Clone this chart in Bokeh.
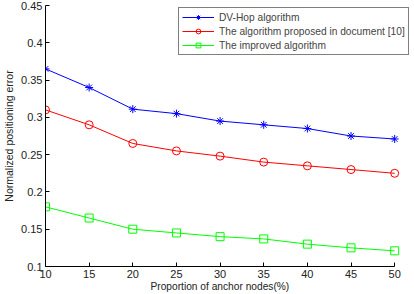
from bokeh.plotting import figure
from bokeh.models import Legend, LegendItem, FixedTicker, Title
from bokeh.embed import file_html
from bokeh.resources import INLINE

x = [10, 15, 20, 25, 30, 35, 40, 45, 50]
dvhop = [0.365, 0.34, 0.311, 0.305, 0.295, 0.29, 0.285, 0.275, 0.271]
doc10 = [0.31, 0.29, 0.265, 0.255, 0.248, 0.24, 0.235, 0.23, 0.225]
improved = [0.18, 0.165, 0.15, 0.145, 0.14, 0.137, 0.13, 0.125, 0.121]
names = ["DV-Hop algorithm", "The algorithm proposed in document [10]", "The improved algorithm"]
yticks = [0.1, 0.15, 0.2, 0.25, 0.3, 0.35, 0.4, 0.45]
xlabel = "Proportion of anchor nodes(%)"
ylabel = "Normalized positioning error"

FONT = "Liberation Sans"
# frame spans 41..410 px; data 10..50 spans 41..394 px
x_end = 10 + 40 * 369 / 353
p = figure(width=414, height=294, output_backend="svg", toolbar_location=None,
           x_range=(10, x_end), y_range=(0.1, 0.45),
           min_border_left=41, min_border_right=4, min_border_top=5, min_border_bottom=28)
p.outline_line_color = None
p.grid.visible = False
p.background_fill_color = "white"
p.border_fill_color = "white"

items = []
series = [(dvhop, "#0000ff", "asterisk"), (doc10, "#ff0000", "circle"), (improved, "#00ff00", "square")]
for (ys, c, m), nm in zip(series, names):
    l = p.line(x, ys, line_color=c, line_width=1)
    s = p.scatter(x, ys, marker=m, size=8, line_color=c, fill_color=None, line_width=1)
    items.append(LegendItem(label=nm, renderers=[l, s]))

leg = Legend(items=items, location=(133, 211), label_text_font=FONT, label_text_font_size="10.2px",
             glyph_width=32, glyph_height=12, label_height=12, spacing=2, padding=3, margin=0,
             border_line_color="black", border_line_width=1, label_standoff=5,
             background_fill_alpha=1)
p.add_layout(leg, "center")

for ax in (p.xaxis, p.yaxis):
    ax.major_tick_in = 4
    ax.major_tick_out = 0
    ax.minor_tick_line_color = None
    ax.major_label_text_font = FONT
    ax.major_label_text_font_size = "11px"
    ax.major_label_text_color = "#222222"
    ax.axis_label_text_font = FONT
    ax.axis_label_text_font_size = "10.5px"
    ax.axis_label_text_font_style = "normal"
    ax.axis_label_text_color = "#222222"
    ax.axis_line_color = "black"
    ax.major_tick_line_color = "black"

p.xaxis.bounds = (10, 50)
p.xaxis.ticker = FixedTicker(ticks=x)
p.yaxis.ticker = FixedTicker(ticks=yticks)
p.yaxis.axis_label = ylabel
p.xaxis.major_label_standoff = 3
p.yaxis.major_label_standoff = 3
p.yaxis.axis_label_standoff = 3

xt = Title(text=xlabel, align="left", offset=105, text_font=FONT, text_font_size="10.2px",
           text_font_style="normal", text_color="#222222", standoff=0, vertical_align="top")
p.add_layout(xt, "below")

open("out.html", "w").write(file_html(p, INLINE))
